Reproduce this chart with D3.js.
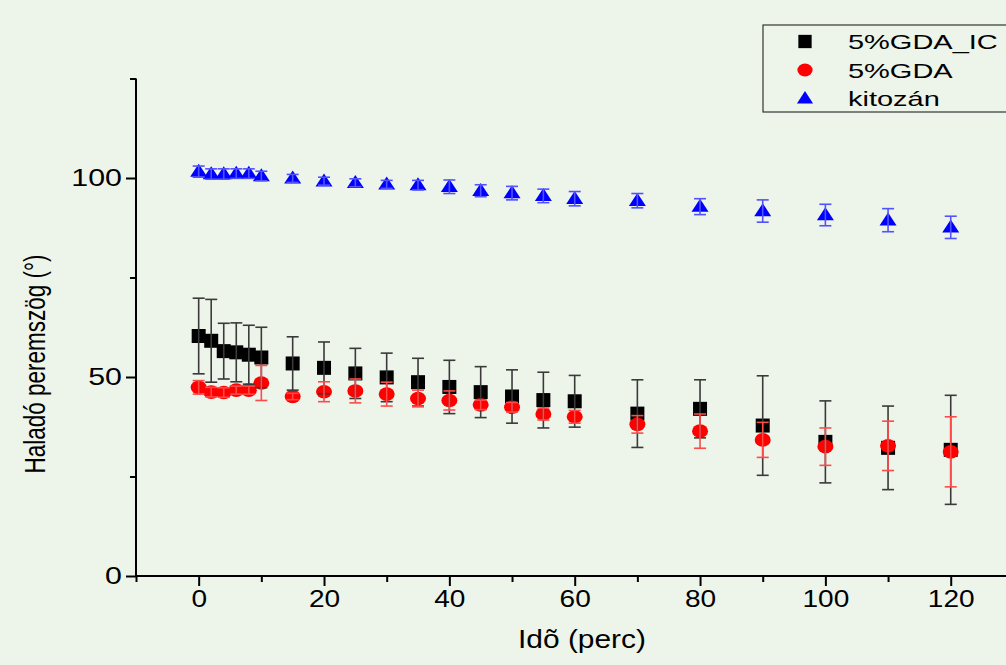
<!DOCTYPE html>
<html>
<head>
<meta charset="utf-8">
<script src="https://cdn.jsdelivr.net/npm/d3@7"></script>
<style>
  html, body { margin: 0; padding: 0; background: #EDF4EA; }
  svg { display: block; }
  text { font-family: "Liberation Sans", Arial, sans-serif; fill: #000; }
</style>
</head>
<body>
<svg id="chart" width="1006" height="665"></svg>
<script>
// ---------- data ----------
const times = [0, 2, 4, 6, 8, 10, 15, 20, 25, 30, 35, 40, 45, 50, 55, 60, 70, 80, 90, 100, 110, 120];
const gdaIC = [60.3, 59.1, 56.5, 56.2, 55.6, 54.9, 53.4, 52.3, 50.9, 49.9, 48.7, 47.5, 46.2, 45.1, 44.2, 43.9, 40.8, 42.0, 37.8, 33.7, 32.2, 31.7];
const gdaICErr = [9.5, 10.4, 7.0, 7.4, 7.4, 7.6, 6.7, 6.5, 6.3, 6.1, 6.0, 6.7, 6.4, 6.7, 7.0, 6.5, 8.5, 7.3, 12.5, 10.3, 10.5, 13.7];
const gda = [47.4, 46.2, 46.1, 46.7, 46.7, 48.5, 45.1, 46.3, 46.5, 45.7, 44.6, 44.1, 43.0, 42.4, 40.7, 40.0, 38.1, 36.4, 34.2, 32.5, 32.7, 31.2];
const gdaErr = [1.7, 1.2, 1.2, 1.0, 1.0, 4.4, 0.8, 2.5, 3.0, 3.0, 2.1, 2.4, 1.2, 1.2, 1.5, 1.6, 2.2, 4.3, 4.4, 4.7, 6.2, 8.8];
const kitozan = [101.6, 101.0, 101.0, 101.1, 101.1, 100.5, 99.9, 99.2, 98.8, 98.4, 98.2, 97.8, 96.8, 96.2, 95.5, 94.8, 94.3, 92.8, 91.7, 90.7, 89.4, 87.6];
const kitozanErr = [1.4, 1.3, 1.3, 1.2, 1.2, 1.2, 1.0, 1.0, 1.0, 1.0, 1.2, 1.7, 1.5, 1.7, 1.7, 1.8, 1.8, 2.0, 2.8, 2.7, 2.9, 2.8];
const seriesNames = ["5%GDA_IC", "5%GDA", "kitozán"];
const xMajorTicks = [0, 20, 40, 60, 80, 100, 120];
const xMinorTicks = [-10, 10, 30, 50, 70, 90, 110, 130];
const yMajorTicks = [0, 50, 100];
const yMinorTicks = [25, 75, 125];
const xTitle = "Idõ (perc)";
const yTitle = "Haladó peremszög (°)";

// ---------- layout ----------
const svg = d3.select("#chart");
const x = d3.scaleLinear().domain([-10, 130]).range([136, 1013.4]);
const y = d3.scaleLinear().domain([0, 125]).range([576, 78.5]);

const series = [
  { name: seriesNames[0], vals: gdaIC, err: gdaICErr, color: "#000", errColor: "#3a3a3a", shape: "square" },
  { name: seriesNames[1], vals: gda, err: gdaErr, color: "#ff0000", errColor: "#ff4a4a", shape: "circle" },
  { name: seriesNames[2], vals: kitozan, err: kitozanErr, color: "#0000ff", errColor: "#5252ff", shape: "triangle" }
];

function drawSymbol(g, shape, cx, cy, color, s) {
  if (shape === "square") {
    g.append("rect").attr("x", cx - 7 * s).attr("y", cy - 7 * s)
      .attr("width", 14 * s).attr("height", 14 * s).attr("fill", color);
  } else if (shape === "circle") {
    g.append("ellipse").attr("cx", cx).attr("cy", cy).attr("rx", 8 * s).attr("ry", 6.8 * s).attr("fill", color);
  } else {
    const w = 8.5 * s, h = 13 * s;
    g.append("path")
      .attr("d", `M${cx},${cy - h * 0.6}L${cx + w},${cy + h * 0.4}L${cx - w},${cy + h * 0.4}Z`)
      .attr("fill", color);
  }
}

// ---------- symbols ----------
const symG = svg.append("g");
series.forEach(s => {
  times.forEach((t, i) => drawSymbol(symG, s.shape, x(t), y(s.vals[i]), s.color, 1));
});

// ---------- error bars ----------
const errG = svg.append("g");
series.forEach(s => {
  const g = errG.append("g").attr("stroke", s.errColor).attr("stroke-width", 1.6).attr("fill", "none");
  times.forEach((t, i) => {
    const cx = x(t), y1 = y(s.vals[i] + s.err[i]), y2 = y(s.vals[i] - s.err[i]);
    g.append("line").attr("x1", cx).attr("x2", cx).attr("y1", y1).attr("y2", y2);
    g.append("line").attr("x1", cx - 6).attr("x2", cx + 6).attr("y1", y1).attr("y2", y1);
    g.append("line").attr("x1", cx - 6).attr("x2", cx + 6).attr("y1", y2).attr("y2", y2);
  });
});

// ---------- axes ----------
const axG = svg.append("g");
const xAxisMajor = d3.axisBottom(x).tickValues(xMajorTicks).tickSize(10).tickSizeOuter(0).tickPadding(5).tickFormat(d3.format("d"));
const xAxisMinor = d3.axisBottom(x).tickValues(xMinorTicks).tickSize(6).tickSizeOuter(0).tickFormat("");
const yAxisMajor = d3.axisLeft(y).tickValues(yMajorTicks).tickSize(10).tickSizeOuter(0).tickFormat(d3.format("d"));
const yAxisMinor = d3.axisLeft(y).tickValues(yMinorTicks).tickSize(6).tickSizeOuter(0).tickFormat("");

function styleAxis(g) {
  g.selectAll("path").remove();
  g.selectAll("line").attr("stroke", "#000").attr("stroke-width", 2);
  g.selectAll("text").attr("font-size", 23).attr("fill", "#000");
}
axG.append("g").attr("transform", "translate(0,576)").call(xAxisMajor).call(styleAxis)
  .selectAll("text").attr("transform", "scale(1.22,1)");
axG.append("g").attr("transform", "translate(0,576)").call(xAxisMinor).call(styleAxis);
axG.append("g").attr("transform", "translate(136,0)").call(yAxisMajor).call(styleAxis)
  .selectAll("text").attr("x", 0).attr("transform", "translate(-14,0) scale(1.32,1)");
axG.append("g").attr("transform", "translate(136,0)").call(yAxisMinor).call(styleAxis);

axG.append("line").attr("x1", x(-10)).attr("x2", x(130)).attr("y1", 576).attr("y2", 576)
  .attr("stroke", "#000").attr("stroke-width", 2);
axG.append("line").attr("x1", 136).attr("x2", 136).attr("y1", y(125)).attr("y2", 577)
  .attr("stroke", "#000").attr("stroke-width", 2);

// ---------- titles ----------
svg.append("text").attr("transform", "translate(582,648) scale(1.15,1)").attr("text-anchor", "middle")
  .attr("font-size", 26).text(xTitle);
svg.append("text").attr("transform", "translate(45,364) rotate(-90) scale(1,1.28)").attr("text-anchor", "middle")
  .attr("font-size", 22.5).text(yTitle);

// ---------- legend ----------
const lg = svg.append("g");
lg.append("rect").attr("x", 763).attr("y", 25).attr("width", 260).attr("height", 87)
  .attr("fill", "none").attr("stroke", "#333").attr("stroke-width", 1.2);
series.forEach((s, i) => {
  const cy = 41.5 + i * 28.5;
  drawSymbol(lg, s.shape, 805, cy, s.color, 0.95);
  lg.append("text").attr("transform", `translate(848,${cy + 7.5}) scale(1.38,1)`)
    .attr("font-size", 21).text(s.name);
});
</script>
</body>
</html>
